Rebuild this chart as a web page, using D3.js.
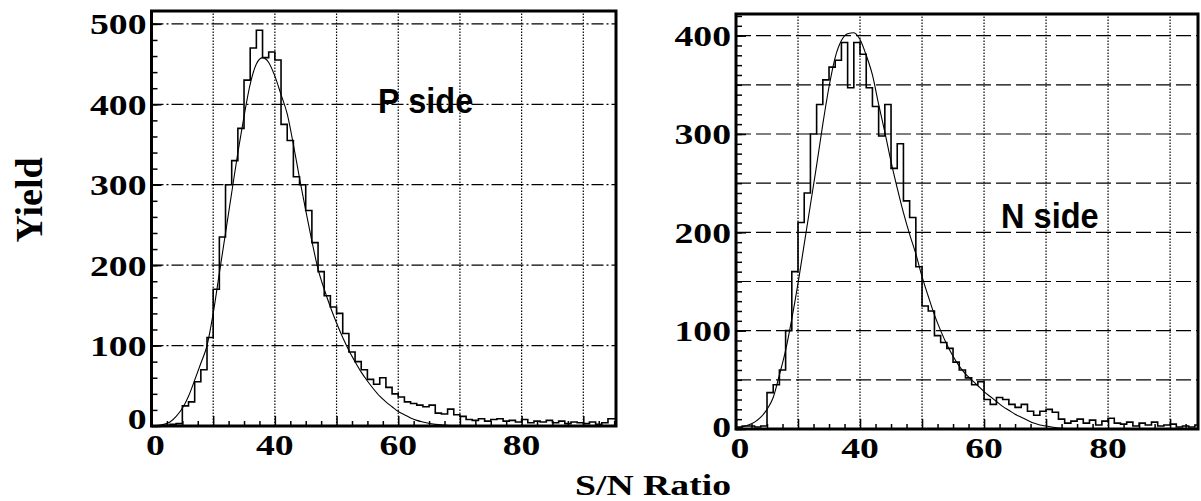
<!DOCTYPE html>
<html>
<head>
<meta charset="utf-8">
<script src="https://cdn.jsdelivr.net/npm/d3@7"></script>
<style>
  body { margin: 0; background: #fff; }
  svg { display: block; }
</style>
</head>
<body>
<script>
// ---- data ----
const binStart = 20;          // first bin edge, S/N units
const binWidth = 1;

// P side histogram, one count per 1-unit bin starting at 20
const pCounts = [
  0, 0, 1, 2, 3, 25, 30, 55, 70, 110,
  170, 235, 300, 330, 370, 430, 470, 492, 458, 465,
  455, 375, 355, 310, 300, 268, 228, 192, 162, 148,
  140, 115, 92, 80, 70, 58, 52, 60, 48, 40,
  36, 30, 28, 26, 24, 26, 16, 15, 21, 14,
  12, 8, 7, 9, 6, 8, 9, 6, 7, 5,
  8, 4, 6, 5, 7, 4, 6, 3, 5, 4,
  3, 5, 2, 4, 9
];
// P side fit curve
const pFitX = [20, 22, 23, 24, 25, 26, 27, 28, 29, 30, 31, 32, 33, 34, 35, 36, 37, 38, 39, 40,
  41, 42, 43, 44, 45, 46, 47, 48, 49, 50, 51, 52, 53, 54, 55, 56, 57, 58, 59, 60,
  61, 62, 63, 64, 66, 68, 70, 75];
const pFitY = [0, 2, 5, 12, 22, 37, 57, 78, 100, 140, 190, 240, 290, 340, 385, 425, 450, 458, 452, 435,
  412, 388, 350, 308, 268, 230, 195, 170, 148, 128, 110, 94, 80, 67, 56, 46, 37, 30, 24, 18,
  14, 10, 7, 5, 2, 1, 0, 0];

// N side histogram
const nCounts = [
  2, 3, 3, 2, 3, 37, 45, 60, 100, 160,
  210, 240, 300, 330, 355, 368, 375, 393, 347, 393,
  381, 347, 328, 298, 330, 265, 290, 232, 215, 165,
  125, 120, 95, 88, 82, 68, 60, 52, 45, 48,
  30, 25, 32, 30, 25, 22, 25, 18, 14, 18,
  20, 17, 10, 6, 8, 10, 6, 9, 4, 8,
  11, 6, 5, 7, 3, 6, 4, 7, 3, 4,
  5, 2, 3, 2, 4
];
// N side fit curve
const nFitX = [20, 21, 22, 23, 24, 25, 26, 27, 28, 29, 30, 31, 32, 33, 34, 35, 36, 37, 38, 39,
  40, 41, 42, 43, 44, 45, 46, 47, 48, 49, 50, 51, 52, 53, 54, 55, 56, 57, 58, 59,
  60, 61, 62, 63, 64, 65, 66, 67, 68, 69, 70, 72, 75];
const nFitY = [1, 2, 4, 7, 12, 20, 32, 55, 80, 112, 148, 188, 228, 268, 310, 348, 378, 395, 402, 403,
  396, 380, 360, 330, 302, 272, 245, 220, 198, 178, 155, 135, 116, 100, 86, 74, 64, 56, 50, 44,
  38, 33, 28, 23, 19, 15, 12, 9, 6, 4, 3, 1, 0];

const xGrid = [30, 40, 50, 60, 70, 80, 90];
const xTickValues = [20, 40, 60, 80];
const xTickLabels = ["0", "40", "60", "80"];

const pYLabels = [0, 100, 200, 300, 400, 500];
const pYGrid = [100, 200, 300, 400, 500];
const nYLabels = [0, 100, 200, 300, 400];
const nYGrid = [50, 100, 150, 200, 250, 300, 350, 400];

// ---- drawing ----
const W = 1201, H = 501;
const svg = d3.select("body").append("svg").attr("width", W).attr("height", H);

const serif = "'Liberation Serif', 'DejaVu Serif', serif";
const stretch = 1.3;

function stretchedText(g, x, y, str, anchor, size) {
  return g.append("text")
    .attr("transform", `translate(${x},${y}) scale(${stretch},1)`)
    .attr("text-anchor", anchor)
    .style("font-family", serif).style("font-weight", "bold")
    .style("font-size", size + "px")
    .text(str);
}

function drawPanel(cfg, idx) {
  const x = d3.scaleLinear().domain(cfg.xDomain).range(cfg.xRange);
  const y = d3.scaleLinear().domain(cfg.yDomain).range(cfg.yRange);
  const g = svg.append("g");
  const [x0, x1] = cfg.xRange, [y0, y1] = cfg.yRange;

  // grid
  g.selectAll(".vg").data(xGrid).enter().append("line")
    .attr("x1", d => x(d)).attr("x2", d => x(d)).attr("y1", y0).attr("y2", y1)
    .attr("stroke", "#000").attr("stroke-width", 1.2).attr("stroke-dasharray", "1.5,1.5");
  g.selectAll(".hg").data(cfg.yGrid).enter().append("line")
    .attr("x1", x0).attr("x2", x1).attr("y1", d => y(d)).attr("y2", d => y(d))
    .attr("stroke", "#000").attr("stroke-width", 1.2).attr("stroke-dasharray", cfg.hDash);

  // ticks (inward)
  const minorX = d3.range(cfg.xDomain[0], cfg.xDomain[1], 2.5).filter(v => v % 10 !== 0);
  const majorX = d3.range(20, cfg.xDomain[1], 10);
  const axX = g.append("g").attr("transform", `translate(0,${y0})`);
  axX.append("g").call(d3.axisBottom(x).tickValues(minorX).tickSize(-5).tickFormat(""));
  axX.append("g").call(d3.axisBottom(x).tickValues(majorX).tickSize(-10).tickFormat(""));
  const minorY = d3.range(0, cfg.yDomain[1], cfg.yMinor);
  const axY = g.append("g").attr("transform", `translate(${x0},0)`);
  axY.append("g").call(d3.axisLeft(y).tickValues(minorY).tickSize(-6).tickFormat(""));
  axY.append("g").call(d3.axisLeft(y).tickValues(cfg.yLabels).tickSize(-10).tickFormat(""));
  g.selectAll(".domain").remove();
  g.selectAll(".tick line").attr("stroke", "#000").attr("stroke-width", 1.5);

  // clip
  const clipId = "clip" + idx;
  svg.append("clipPath").attr("id", clipId).append("rect")
    .attr("x", x0).attr("y", y1).attr("width", x1 - x0).attr("height", y0 - y1);

  // histogram
  const pts = cfg.counts.map((c, i) => [binStart + i * binWidth, c]);
  pts.push([cfg.xDomain[1], cfg.counts[cfg.counts.length - 1]]);
  const step = d3.line().x(d => x(d[0])).y(d => y(d[1])).curve(d3.curveStepAfter);
  g.append("path").attr("d", step(pts)).attr("clip-path", `url(#${clipId})`)
    .attr("fill", "none").attr("stroke", "#000").attr("stroke-width", 1.6);

  // fit
  const fit = cfg.fitX.map((v, i) => [v, cfg.fitY[i]]);
  const smooth = d3.line().x(d => x(d[0])).y(d => y(d[1])).curve(d3.curveMonotoneX);
  g.append("path").attr("d", smooth(fit)).attr("clip-path", `url(#${clipId})`)
    .attr("fill", "none").attr("stroke", "#000").attr("stroke-width", 1.1);

  // frame
  g.append("rect").attr("x", x0).attr("y", y1).attr("width", x1 - x0).attr("height", y0 - y1)
    .attr("fill", "none").attr("stroke", "#000").attr("stroke-width", 3);

  // labels
  xTickValues.forEach((v, i) => {
    stretchedText(g, x(v) + (i === 0 ? 4 : 0), y0 + 29, xTickLabels[i], "middle", 29);
  });
  cfg.yLabels.forEach(v => {
    const yy = y(v) + 10.5 - (v === 0 ? cfg.zeroLift : 0);
    stretchedText(g, x0 - 5, yy, String(v), "end", 29);
  });

  g.append("text")
    .attr("transform", `translate(${cfg.tag[0]},${cfg.tag[1]}) scale(0.93,1)`)
    .style("font-family", "'Liberation Sans', Arial, sans-serif").style("font-weight", "bold")
    .style("font-size", "35px").text(cfg.tagText);
}

drawPanel({
  xDomain: [20, 95.3], xRange: [151.5, 616],
  yDomain: [0, 516], yRange: [426, 11],
  yGrid: pYGrid, yLabels: pYLabels, yMinor: 20, hDash: "12,3,2,3",
  counts: pCounts, fitX: pFitX, fitY: pFitY,
  zeroLift: 8, tag: [378, 113], tagText: "P side"
}, 0);

drawPanel({
  xDomain: [20, 94.5], xRange: [736, 1198],
  yDomain: [0, 422], yRange: [429, 14],
  yGrid: nYGrid, yLabels: nYLabels, yMinor: 10, hDash: "15,5",
  counts: nCounts, fitX: nFitX, fitY: nFitY,
  zeroLift: 3, tag: [1001, 228], tagText: "N side"
}, 1);

// axis titles
stretchedText(svg, 575 + 78, 495, "S/N Ratio", "middle", 29);
svg.append("text")
  .attr("transform", "translate(42,200) rotate(-90)")
  .attr("text-anchor", "middle")
  .style("font-family", serif).style("font-weight", "bold").style("font-size", "38px")
  .text("Yield");
</script>
</body>
</html>
